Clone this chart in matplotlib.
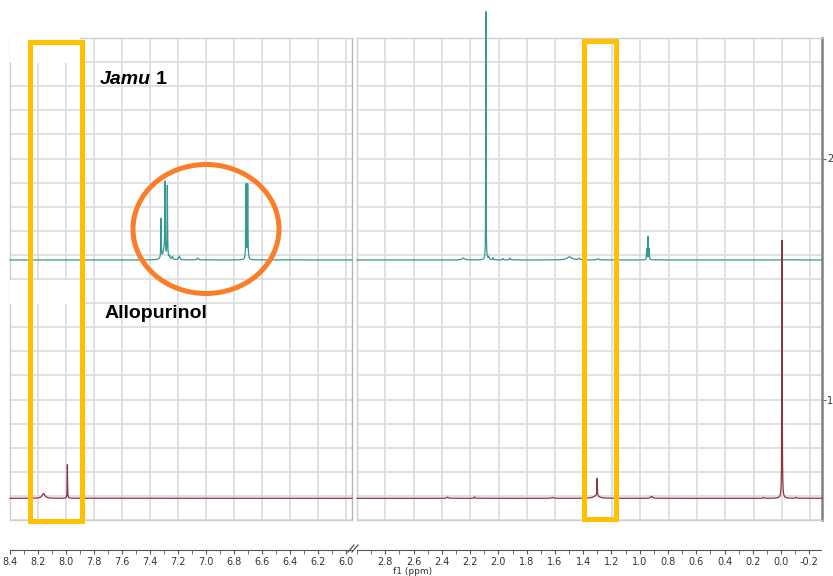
import numpy as np
import matplotlib
matplotlib.use("Agg")
import matplotlib.pyplot as plt
from matplotlib.ticker import MultipleLocator
from matplotlib.patches import Rectangle, Ellipse
from matplotlib.lines import Line2D

plt.rcParams['font.family'] = ['DejaVu Sans']

# peak lists (ppm, height in axis units, half width in ppm)
jamu_baseline = 1.579
jamu_ppm = [7.321, 7.293, 7.276, 7.300, 7.260, 7.240, 7.190, 7.060, 6.714, 6.702,
            2.250, 2.090, 2.070, 2.040, 1.970, 1.920, 1.500, 1.430, 1.300,
            0.955, 0.946, 0.937, 0.000]
jamu_height = [0.165, 0.300, 0.300, 0.035, 0.012, 0.012, 0.015, 0.008, 0.310, 0.310,
               0.008, 1.030, 0.012, 0.008, 0.006, 0.008, 0.013, 0.006, 0.005,
               0.045, 0.095, 0.045, 0.012]
jamu_width = [0.0018, 0.0018, 0.0018, 0.010, 0.004, 0.004, 0.005, 0.006, 0.0018, 0.0018,
              0.010, 0.0012, 0.004, 0.003, 0.003, 0.003, 0.020, 0.006, 0.006,
              0.0015, 0.0015, 0.0015, 0.002]

allo_baseline = 0.590
allo_ppm = [8.160, 7.990, 2.360, 2.170, 1.620, 1.305, 1.310, 0.920, 0.130, 0.000, 0.000, -0.100]
allo_height = [0.020, 0.140, 0.005, 0.006, 0.003, 0.072, 0.012, 0.008, 0.004, 1.040, 0.030, 0.004]
allo_width = [0.012, 0.0015, 0.006, 0.003, 0.010, 0.0015, 0.020, 0.008, 0.004, 0.0014, 0.004, 0.004]

left_range = (8.40, 5.957)
right_range = (3.00, -0.282)
left_ticks = [8.4, 8.2, 8.0, 7.8, 7.6, 7.4, 7.2, 7.0, 6.8, 6.6, 6.4, 6.2, 6.0]
right_ticks = [2.8, 2.6, 2.4, 2.2, 2.0, 1.8, 1.6, 1.4, 1.2, 1.0, 0.8, 0.6, 0.4, 0.2, 0.0, -0.2]

teal = '#34998f'
wine = '#8b3442'
gold = '#ffc000'
orange = '#fb7d28'

W, H = 833, 576


def box(x0, y0, x1, y1):
    return [x0 / W, 1 - y1 / H, (x1 - x0) / W, (y1 - y0) / H]


def spectrum(ppm, base, pos, hgt, wid):
    y = np.full_like(ppm, base)
    for p, h, w in zip(pos, hgt, wid):
        y += h / (1 + ((ppm - p) / w) ** 2)
    return y


fig = plt.figure(figsize=(8.33, 5.76), dpi=100)

axL = fig.add_axes(box(10, 38, 352, 520))
axR = fig.add_axes(box(357, 38, 822, 520))

for ax, rng, ticks in [(axL, left_range, left_ticks), (axR, right_range, right_ticks)]:
    ppm = np.arange(rng[1], rng[0], 0.0002)
    ax.plot(ppm, spectrum(ppm, jamu_baseline, jamu_ppm, jamu_height, jamu_width),
            color=teal, lw=0.9, clip_on=False, zorder=3)
    ax.plot(ppm, spectrum(ppm, allo_baseline, allo_ppm, allo_height, allo_width),
            color=wine, lw=0.9, clip_on=False, zorder=4)
    ax.set_xlim(*rng)
    ax.set_ylim(0.5, 2.5)
    ax.set_xticks(ticks)
    ax.yaxis.set_major_locator(MultipleLocator(1.0))
    ax.yaxis.set_minor_locator(MultipleLocator(0.1))
    ax.grid(True, which='both', color='#dcdcdc', lw=1.2)
    ax.set_axisbelow(True)
    ax.tick_params(which='both', length=0, labelbottom=False, labelleft=False)
    for s in ax.spines.values():
        s.set_color('#cfcfcf')
        s.set_linewidth(1.0)

axL.spines['right'].set_color('#b5b5b5')
axR.yaxis.tick_right()
axR.tick_params(axis='y', which='major', length=3, labelright=True, labelsize=7,
                color='#666666', labelcolor='#333333', pad=0.5)
axR.spines['right'].set_color('#808080')
axR.spines['right'].set_linewidth(1.8)

# ppm scale below the plot
for rng, ticks, x0, x1 in [(left_range, left_ticks, 10, 352), (right_range, right_ticks, 357, 821)]:
    bx = fig.add_axes(box(x0, 549, x1, 550))
    bx.set_xlim(*rng)
    bx.set_xticks(ticks)
    bx.set_xticklabels([f'{t:.1f}' for t in ticks])
    bx.xaxis.set_minor_locator(MultipleLocator(0.1))
    bx.set_yticks([])
    for k in ['top', 'left', 'right']:
        bx.spines[k].set_visible(False)
    bx.spines['bottom'].set_color('#555555')
    bx.patch.set_visible(False)
    bx.tick_params(axis='x', which='both', length=3, color='#555555',
                   labelsize=7, labelcolor='#333333', pad=2.0)

# axis break mark
for dx in (0, 4):
    fig.add_artist(Line2D([(348 + dx) / W, (354 + dx) / W], [1 - 552 / H, 1 - 545 / H],
                          color='#555555', lw=0.9))

fig.text(413 / W, 1 - 566.5 / H, 'f1 (ppm)', fontsize=6.5, color='#333333', ha='center', va='top')

# white patches over the left edge
for x0, y0, x1, y1 in [(10, 33, 80, 63), (10, 280, 80, 304)]:
    fig.add_artist(Rectangle((x0 / W, 1 - y1 / H), (x1 - x0) / W, (y1 - y0) / H,
                             transform=fig.transFigure, facecolor='white', edgecolor='none', zorder=5))

# highlight boxes and circle
for x0, y0, x1, y1 in [(29.5, 41.5, 82.5, 520.5), (583.5, 40.5, 615.5, 518.5)]:
    fig.add_artist(Rectangle((x0 / W, 1 - y1 / H), (x1 - x0) / W, (y1 - y0) / H,
                             transform=fig.transFigure, facecolor='none', edgecolor=gold,
                             lw=3.6, zorder=6))
fig.add_artist(Ellipse((206 / W, 1 - 229 / H), 146 / W, 129 / H, transform=fig.transFigure,
                       facecolor='none', edgecolor=orange, lw=3.6, zorder=6))

fig.text(100 / W, 1 - 80 / H, 'Jamu', family='Liberation Sans', fontsize=14,
         fontweight='bold', fontstyle='italic', va='center', zorder=7)
fig.text(156 / W, 1 - 80 / H, '1', family='Liberation Sans', fontsize=14,
         fontweight='bold', va='center', zorder=7)
fig.text(105 / W, 1 - 314 / H, 'Allopurinol', family='Liberation Sans', fontsize=14,
         fontweight='bold', va='center', zorder=7)

fig.savefig('out.png', dpi=100)
